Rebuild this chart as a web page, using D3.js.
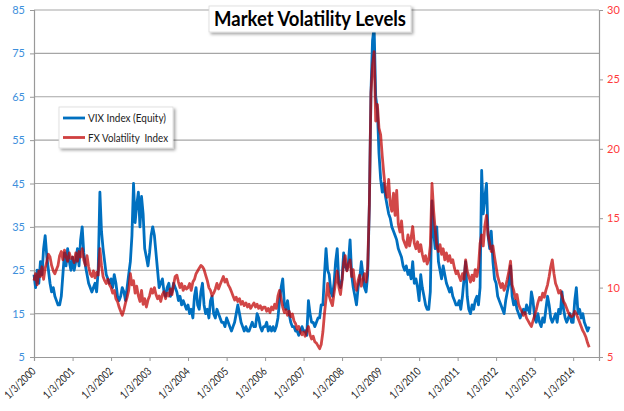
<!DOCTYPE html>
<html>
<head>
<meta charset="utf-8">
<script src="https://cdn.jsdelivr.net/npm/d3@7"></script>
<style>
  html, body { margin: 0; padding: 0; background: #fff; }
  svg { display: block; }
</style>
</head>
<body>
<svg id="chart" width="624" height="411"></svg>
<script>
// ---------------- DATA ----------------
const chartTitle = "Market Volatility Levels";
const seriesNames = ["VIX Index (Equity)", "FX Volatility  Index"];
const startYear = 2000;
const pointsPerYear = 24; // half-monthly readings
const xTickLabels = ["1/3/2000","1/3/2001","1/3/2002","1/3/2003","1/3/2004","1/3/2005","1/3/2006","1/3/2007","1/3/2008","1/3/2009","1/3/2010","1/3/2011","1/3/2012","1/3/2013","1/3/2014"];
const leftTicks = [5, 15, 25, 35, 45, 55, 65, 75, 85];
const rightTicks = [5, 10, 15, 20, 25, 30];

// VIX Index (left axis), half-monthly from Jan 2000
const vixValues = [
  24,21,25,22,27,24,30,33,28,25,22,20,21,19,18,17,17,19,24,29,26,30,27,25,
  28,25,27,30,26,32,35,29,26,24,22,21,20,21,22,20,25,43,34,30,27,24,23,22,
  23,21,24,22,19,18,19,21,20,18,21,24,27,33,45,36,40,43,35,42,38,30,28,26,
  29,33,35,33,29,25,21,22,23,20,19,21,22,19,20,22,21,20,18,19,17,18,17,16,
  17,15,16,14,19,21,17,16,20,22,17,15,16,14,18,19,15,14,16,15,14,13,13,12,
  14,13,12,11,12,13,15,17,15,13,12,11,12,11,11,12,13,12,12,15,14,12,11,12,
  12,13,11,12,11,12,11,12,14,18,21,23,17,16,18,15,13,12,12,11,11,10,11,12,
  11,11,10,18,15,13,13,12,13,14,14,17,17,24,30,25,24,20,19,22,27,30,22,21,
  23,29,26,25,27,32,24,21,19,17,21,23,27,24,21,20,24,40,66,78,81,65,62,52,
  46,43,45,42,40,38,37,35,34,33,32,30,29,28,26,25,26,24,25,23,27,22,23,21,
  18,24,21,19,17,16,16,20,41,34,30,35,27,25,23,26,24,22,21,20,21,19,18,17,
  17,18,16,19,23,27,19,16,15,17,16,18,19,17,21,48,38,42,45,33,30,34,27,23,
  22,19,18,17,16,15,18,20,22,26,19,17,18,16,15,14,15,16,15,17,16,15,20,18,
  14,13,15,13,12,14,13,16,19,17,14,13,14,15,13,16,15,20,16,14,13,14,15,13,
  13,18,21,15,16,14,15,13,12,11,12
];

// FX Volatility Index (right axis), half-monthly from Jan 2000
const fxValues = [
  10.5,11.0,10.2,11.2,10.8,11.5,10.6,11.4,11.9,12.4,12.2,11.6,11.2,11.0,11.3,11.6,12.3,12.6,12.0,12.7,12.2,11.9,12.5,12.1,
  12.2,11.8,12.5,11.9,12.6,12.2,12.8,12.0,11.6,12.3,11.5,11.0,10.8,11.2,10.7,11.1,10.9,12.8,11.6,10.8,10.5,10.3,10.6,10.2,
  10.0,9.6,9.8,9.2,9.0,8.6,8.3,8.0,8.4,8.9,9.3,9.8,11.0,10.2,10.5,9.6,10.1,9.4,9.0,9.8,8.8,9.2,8.6,9.1,
  9.4,9.9,9.6,10.0,9.5,9.2,9.4,9.0,9.5,9.7,9.2,9.6,9.4,9.9,9.5,10.2,10.8,10.9,10.4,10.0,10.3,9.8,10.1,9.9,
  10.0,10.3,9.8,10.4,10.6,11.0,11.2,11.4,11.6,11.5,11.3,10.9,10.5,10.0,9.8,9.4,9.6,9.9,10.3,9.9,10.2,10.5,10.8,10.4,
  10.6,10.2,10.0,9.7,9.4,9.1,9.3,9.0,9.2,8.8,9.0,8.7,8.9,8.6,8.8,8.5,8.7,8.9,8.6,8.8,8.5,8.7,8.4,8.6,
  8.6,8.3,8.5,8.2,8.6,8.4,8.8,8.5,9.4,9.8,9.2,8.6,8.2,8.4,8.0,8.3,7.9,8.1,7.6,7.4,7.0,7.2,6.8,6.6,
  6.8,6.5,6.9,7.2,6.6,6.3,6.5,6.1,6.0,5.8,5.6,5.9,6.8,8.1,9.2,10.3,9.4,9.0,8.7,9.6,10.4,11.2,10.0,9.5,
  10.5,11.8,12.3,11.2,11.6,12.0,10.8,11.3,10.2,9.8,10.5,10.9,10.1,10.6,11.0,10.4,11.5,16.0,24.0,26.0,27.0,22.0,23.2,21.5,
  21.0,19.5,18.2,17.0,16.5,17.8,16.0,15.5,16.8,15.2,17.0,14.6,14.0,14.8,13.5,13.2,12.9,13.8,13.0,13.6,14.4,13.2,12.8,13.3,
  12.6,13.1,12.4,11.9,12.3,11.7,12.0,13.0,17.5,15.6,14.2,13.0,12.6,13.1,12.4,12.8,12.0,12.5,11.9,12.3,11.8,12.0,11.4,11.0,
  11.2,10.8,10.5,11.0,10.6,12.0,11.2,10.8,10.4,10.9,10.5,11.3,10.8,11.5,13.2,13.8,13.0,14.5,15.2,13.8,13.2,12.6,13.0,12.2,
  11.5,10.8,10.4,10.0,10.3,9.8,10.1,10.6,11.2,11.9,10.2,9.8,9.2,9.5,8.8,8.5,8.3,8.0,8.2,7.8,7.6,7.4,7.2,7.6,
  8.0,8.4,8.9,9.3,9.1,9.6,9.3,9.8,10.2,10.8,11.5,12.0,11.0,10.3,10.0,9.6,9.8,9.4,9.0,8.8,8.5,8.2,8.0,7.9,
  8.0,8.3,8.1,7.8,7.5,7.2,6.9,6.7,6.4,6.0,5.7
];

// ---------------- CHART ----------------
const svg = d3.select("#chart");
const W = 624, H = 411;
const plot = { left: 34, right: 599, top: 10, bottom: 357 };
const font = "Lato, 'Open Sans', sans-serif";

function dateOf(k) {
  const yr = startYear + Math.floor(k / pointsPerYear);
  const i = k % pointsPerYear;
  return new Date(yr, 0, 3 + Math.round(i * 365 / pointsPerYear));
}

const x = d3.scaleTime()
  .domain([new Date(2000, 0, 3), new Date(2014, 8, 5)])
  .range([plot.left, plot.right]);
const yL = d3.scaleLinear().domain([5, 85]).range([plot.bottom, plot.top]);
const yR = d3.scaleLinear().domain([5, 30]).range([plot.bottom, plot.top]);

const defs = svg.append("defs");
const f = defs.append("filter").attr("id", "shadow").attr("x", "-10%").attr("y", "-20%").attr("width", "130%").attr("height", "160%");
f.append("feDropShadow").attr("dx", 2).attr("dy", 2).attr("stdDeviation", 1.5).attr("flood-color", "#000").attr("flood-opacity", 0.35);

svg.append("rect").attr("width", W).attr("height", H).attr("fill", "#fff");

// gridlines
svg.append("g").selectAll("line").data(leftTicks.filter(d => d > 5)).join("line")
  .attr("x1", plot.left).attr("x2", plot.right)
  .attr("y1", d => yL(d)).attr("y2", d => yL(d))
  .attr("stroke", "#a6a6a6").attr("stroke-width", 1.2);

// axes
const axL = svg.append("g").attr("transform", `translate(${plot.left},0)`)
  .call(d3.axisLeft(yL).tickValues(leftTicks).tickSize(4).tickPadding(5));
axL.select(".domain").attr("stroke", "#999").attr("stroke-width", 1.2);
axL.selectAll(".tick line").attr("stroke", "#999");
axL.selectAll("text").attr("fill", "#3d8fdc").attr("font-family", font).attr("font-size", 11);

const axR = svg.append("g").attr("transform", `translate(${plot.right},0)`)
  .call(d3.axisRight(yR).tickValues(rightTicks).tickSize(4).tickPadding(4));
axR.select(".domain").attr("stroke", "#999").attr("stroke-width", 1.2);
axR.selectAll(".tick line").attr("stroke", "#999");
axR.selectAll("text").attr("fill", "#ff3b3b").attr("font-family", font).attr("font-size", 11);

const tickDates = xTickLabels.map(s => { const p = s.split("/"); return new Date(+p[2], +p[0] - 1, +p[1]); });
const axB = svg.append("g").attr("transform", `translate(0,${plot.bottom})`)
  .call(d3.axisBottom(x).tickValues(tickDates).tickSize(4).tickFormat((d, i) => xTickLabels[i]));
axB.select(".domain").attr("stroke", "#999").attr("stroke-width", 1.2);
axB.selectAll(".tick line").attr("stroke", "#999");
axB.selectAll("text")
  .attr("font-family", font).attr("font-size", 11).attr("fill", "#222")
  .attr("text-anchor", "end").attr("dy", 0).attr("y", 0)
  .attr("textLength", 39).attr("lengthAdjust", "spacingAndGlyphs")
  .attr("transform", "translate(2,15) rotate(-45)");

// lines
const lineL = d3.line().x((d, k) => x(dateOf(k))).y(d => yL(d));
const lineR = d3.line().x((d, k) => x(dateOf(k))).y(d => yR(d));

svg.append("path").datum(vixValues).attr("d", lineL)
  .attr("fill", "none").attr("stroke", "#0070c0").attr("stroke-width", 2.8).attr("stroke-linejoin", "round");
svg.append("path").datum(fxValues).attr("d", lineR)
  .attr("fill", "none").attr("stroke", "#c00000").attr("stroke-opacity", 0.72).attr("stroke-width", 2.8).attr("stroke-linejoin", "round");

// title box
const tg = svg.append("g");
tg.append("rect").attr("x", 209).attr("y", 6).attr("width", 202).attr("height", 26)
  .attr("fill", "#fff").attr("stroke", "#d9d9d9").attr("stroke-width", 0.8).attr("filter", "url(#shadow)");
tg.append("text").attr("x", 310).attr("y", 26).attr("text-anchor", "middle")
  .attr("font-family", font).attr("font-weight", "bold").attr("font-size", 20)
  .attr("fill", "#000").attr("textLength", 192).attr("lengthAdjust", "spacingAndGlyphs")
  .text(chartTitle);

// legend
const lg = svg.append("g");
lg.append("rect").attr("x", 59).attr("y", 107).attr("width", 114).attr("height", 41)
  .attr("fill", "#fff").attr("stroke", "#d9d9d9").attr("stroke-width", 0.8).attr("filter", "url(#shadow)");
const legColors = ["#0070c0", "#d04040"];
const legWidths = [78, 80];
seriesNames.forEach((name, i) => {
  const yy = 118 + i * 19.5;
  lg.append("line").attr("x1", 63).attr("x2", 85).attr("y1", yy).attr("y2", yy)
    .attr("stroke", legColors[i]).attr("stroke-width", 2.8);
  lg.append("text").attr("x", 88).attr("y", yy + 4)
    .attr("font-family", font).attr("font-size", 11).attr("fill", "#222")
    .attr("textLength", legWidths[i]).attr("lengthAdjust", "spacingAndGlyphs")
    .attr("xml:space", "preserve").style("white-space", "pre")
    .text(name);
});
</script>
</body>
</html>
